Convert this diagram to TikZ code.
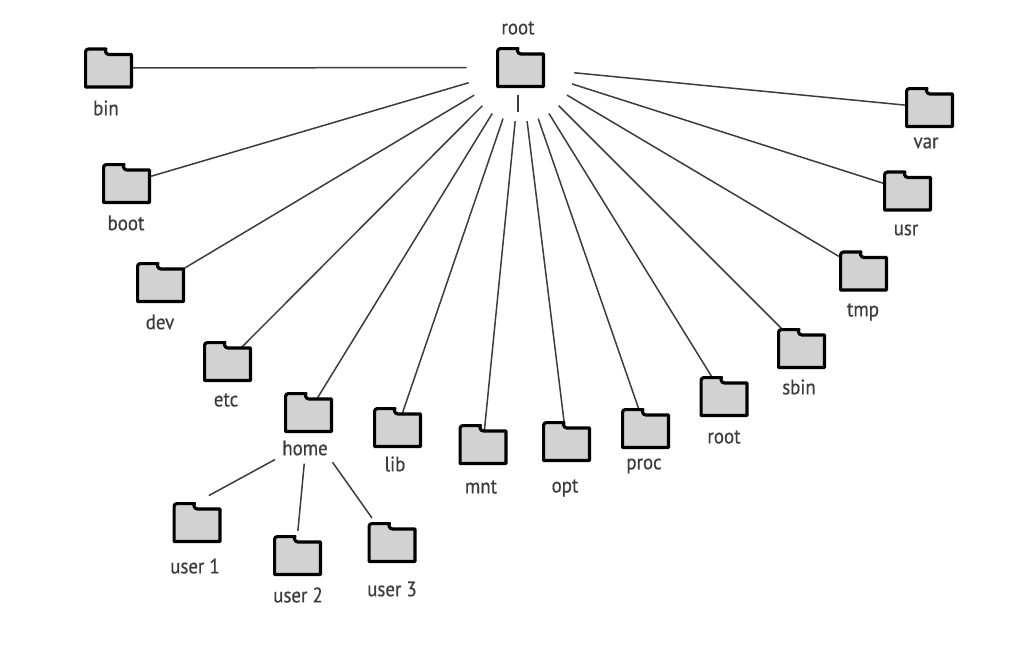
\documentclass[tikz,border=0pt]{standalone}
\usepackage{fontspec}
\setmainfont{PT Sans}[FakeBold=0.4,FakeStretch=0.9]
\usetikzlibrary{backgrounds}
\definecolor{foldergray}{HTML}{D2D2D2}
\definecolor{inkgray}{HTML}{3C3C3C}
\tikzset{
  folder/.style={minimum width=49pt, minimum height=41pt, inner sep=0pt, outer sep=0pt,
    path picture={
      \draw[line width=3.2pt, draw=black, fill=foldergray, line join=round, x=1pt, y=-1pt]
        (-23,19) -- (-23,-13.5) [rounded corners=3pt] -- (-23,-19) -- (-5.5,-19) [sharp corners]
        .. controls (-3.5,-19) and (-3.5,-13.5) .. (.5,-13.5) -- (23,-13.5) -- (23,19) -- cycle;
    }},
  foldertext/.style={inner sep=0pt, text=inkgray, font=\fontsize{21}{21}\selectfont},
  branch/.style={line width=1.5pt, draw=inkgray}
}
\begin{document}
\begin{tikzpicture}[x=1pt, y=-1pt]
  \useasboundingbox (0,0) rectangle (1024,656);
  \node[folder] (top) at (520.5,67.5) {};
  \node[foldertext] (top-text) at (518,28) {root};
  \foreach \fname/\fx/\fy/\tx/\ty/\ftext in {
      bin/108.5/68/106/108/bin, boot/126.5/183.5/126/223/boot, dev/160.5/282.5/160/322/dev,
      etc/227.5/361.5/226/400/etc, home/308.5/412.5/305/448/home, lib/397.5/427.5/395/464/lib,
      mnt/483/444.5/481/487/mnt, opt/566.5/441.5/565/488/opt, proc/645.5/428.5/644/466/proc,
      rootdir/724/396.5/724/437/root, sbin/801.5/348.5/799/387/sbin, tmp/863.5/271/863/312/tmp,
      usr/907.5/191/906/230/usr, var/929.5/107.5/926/143/var}
    {
      \node[folder] (\fname) at (\fx,\fy) {};
      \node[foldertext] (\fname-text) at (\tx,\ty) {\ftext};
    }
  \foreach \fname/\fx/\fy/\tx/\ty/\ftext in {
      userone/197/522.5/195/566/user 1, usertwo/297.5/555.5/298/595/user 2,
      userthree/392/542.5/392/589/user 3}
    {
      \node[folder] (\fname) at (\fx,\fy) {};
      \node[foldertext] (\fname-text) at (\tx,\ty) {\ftext};
    }
  \coordinate (stemtop) at (518,95);
  \coordinate (stembot) at (518,112);
  \draw[branch] (stemtop) -- (stembot);
  \begin{scope}[on background layer]
    \foreach \fname in {bin,boot,dev,etc,home,lib,mnt,opt,proc,rootdir,sbin,tmp,usr,var}
      \draw[branch, shorten >=54pt] (\fname.center) -- (top.center);
  \end{scope}
  \draw[branch, shorten <=8pt, shorten >=13.5pt] (home-text.south west) -- (userone.north);
  \draw[branch, shorten <=8pt, shorten >=4pt] (home-text.south) -- (usertwo.north);
  \draw[branch, shorten <=8pt, shorten >=5pt] (home-text.south east) -- (userthree.130);
\end{tikzpicture}
\end{document}
